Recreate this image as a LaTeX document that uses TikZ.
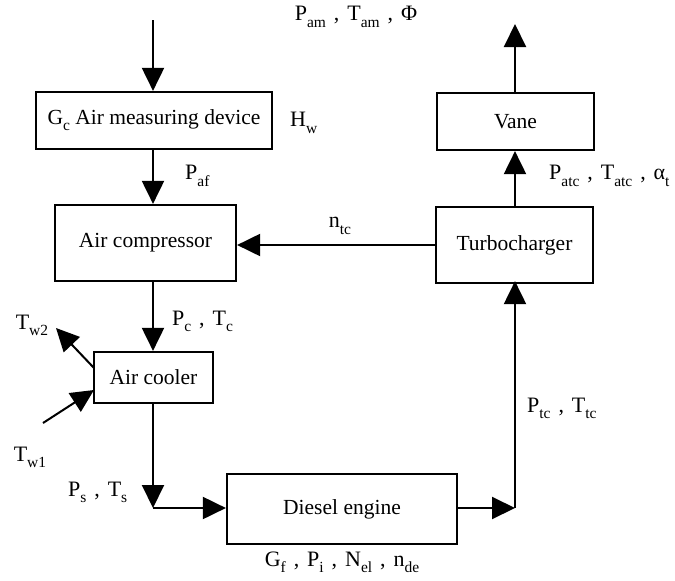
\documentclass[tikz,border=0pt]{standalone}
\usepackage{fontspec}
\setmainfont{Liberation Serif}
\usetikzlibrary{arrows.meta}
\newcommand{\ssb}[2]{#1\raisebox{-0.62ex}{\fontsize{15.5}{15.5}\selectfont #2}}
\newcommand{\cm}{\hspace{0.36em},\hspace{0.36em}}
\begin{document}
\begin{tikzpicture}[x=1pt,y=-1pt,
  blk/.style={draw,line width=2.2pt,inner sep=0pt,font=\fontsize{21.5}{24}\selectfont},
  lbl/.style={inner sep=0pt,font=\fontsize{22}{24}\selectfont},
  flow/.style={line width=2pt,-{Triangle[length=23pt,width=22pt]}}]
\useasboundingbox (0,0) rectangle (675,581);
\fill[white] (0,0) rectangle (675,581);
\node[blk,minimum width=236pt,minimum height=57pt] (meas) at (154,120.5) {\ssb{G}{c} Air measuring device};
\node[blk,minimum width=181pt,minimum height=76pt] (comp) at (145.5,243) {Air compressor};
\node[blk,minimum width=119pt,minimum height=51pt] (cool) at (153.5,377.5) {Air cooler};
\node[blk,minimum width=230pt,minimum height=70pt] (eng) at (342,509) {Diesel engine};
\node[blk,minimum width=157pt,minimum height=76pt] (turbo) at (514.5,245) {Turbocharger};
\node[blk,minimum width=157pt,minimum height=57pt] (vane) at (515.5,121.5) {Vane};
\coordinate (in) at (153,20);
\coordinate (out) at (515,24);
\coordinate (c1) at (153,508);
\coordinate (c2) at (515,508);
\coordinate (w2) at (56,328);
\coordinate (w2s) at (94,368);
\coordinate (w1) at (43,423);
\coordinate (w1e) at (94,390);
% connectors
\draw[flow] (in) -- (in |- meas.north);
\draw[flow] (in |- meas.south) -- (in |- comp.north);
\draw[flow] (in |- comp.south) -- (in |- cool.north);
\draw[flow] (in |- cool.south) -- (c1);
\draw[flow] (c1) -- (eng.west |- c1);
\draw[flow] (eng.east |- c2) -- (c2);
\draw[flow] (c2) -- ([yshift=3pt]c2 |- turbo.south);
\draw[flow] (turbo.west) -- (comp.east |- turbo.west);
\draw[flow] (out |- turbo.north) -- (out |- vane.south);
\draw[flow] (out |- vane.north) -- (out);
\draw[flow] (w2s) -- (w2);
\draw[flow] (w1) -- (w1e);
% labels
\node[lbl] (l1) at (356,17) {\ssb{P}{am}\cm\ssb{T}{am}\cm Φ};
\node[lbl,anchor=west] (l2) at (290,123) {\ssb{H}{w}};
\node[lbl,anchor=west] (l3) at (185,176) {\ssb{P}{af}};
\node[lbl] (l4) at (340,226) {\ssb{n}{tc}};
\node[lbl,anchor=west] (l5) at (549,176) {\ssb{P}{atc}\cm\ssb{T}{atc}\cm\ssb{α}{t}};
\node[lbl,anchor=west] (l6) at (172,321) {\ssb{P}{c}\cm\ssb{T}{c}};
\node[lbl] (l7) at (32,325) {\ssb{T}{w2}};
\node[lbl] (l8) at (30,457) {\ssb{T}{w1}};
\node[lbl,anchor=west] (l9) at (527,408) {\ssb{P}{tc}\cm\ssb{T}{tc}};
\node[lbl,anchor=west] (l10) at (68,492) {\ssb{P}{s}\cm\ssb{T}{s}};
\node[lbl] (l11) at (342,562) {\ssb{G}{f}\cm\ssb{P}{i}\cm\ssb{N}{el}\cm\ssb{n}{de}};
\end{tikzpicture}
\end{document}
